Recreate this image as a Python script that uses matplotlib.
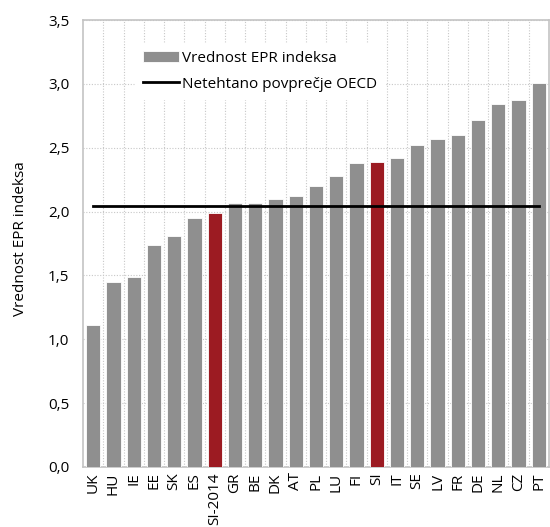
import matplotlib
matplotlib.use("Agg")
import matplotlib.pyplot as plt
from matplotlib.ticker import MultipleLocator, FuncFormatter
import numpy as np

plt.rcParams['font.family'] = ['Open Sans', 'DejaVu Sans']

countries = ["UK", "HU", "IE", "EE", "SK", "ES", "SI-2014", "GR", "BE", "DK", "AT", "PL",
             "LU", "FI", "SI", "IT", "SE", "LV", "FR", "DE", "NL", "CZ", "PT"]
epr_values = [1.11, 1.45, 1.49, 1.74, 1.81, 1.95, 1.99, 2.07, 2.07, 2.10, 2.12, 2.20,
              2.28, 2.38, 2.39, 2.42, 2.52, 2.57, 2.60, 2.72, 2.84, 2.87, 3.01]
oecd_avg = 2.04
highlight = ["SI-2014", "SI"]

gray = "#8f8f8f"
red = "#9c1b22"

fig = plt.figure(figsize=(5.5, 5.27), dpi=100)
ax = fig.add_axes([0.151, 0.114, 0.847, 0.848])

x = np.arange(len(countries))
colors = [red if c in highlight else gray for c in countries]
bars = ax.bar(x, epr_values, width=0.7, color=colors, edgecolor="white", linewidth=0.6, zorder=3)
line, = ax.plot([x[0], x[-1]], [oecd_avg, oecd_avg], color="black", linewidth=2, zorder=4)

ax.set_xlim(-0.5, len(countries) - 0.5)
ax.set_ylim(0, 3.5)
ax.yaxis.set_major_locator(MultipleLocator(0.5))
ax.yaxis.set_major_formatter(FuncFormatter(lambda v, p: f"{v:.1f}".replace(".", ",")))
ax.set_xticks(x)
ax.set_xticklabels(countries, rotation=90, fontsize=11)
ax.set_xticks(x + 0.5, minor=True)
ax.tick_params(axis="both", which="both", length=0)
ax.tick_params(axis="y", labelsize=11, pad=10)
ax.tick_params(axis="x", pad=4)

ax.grid(axis="y", which="major", color="#c8c8c8", linestyle=(0, (1, 1.5)), linewidth=0.8, zorder=0)
ax.grid(axis="x", which="minor", color="#c8c8c8", linestyle=(0, (1, 1.5)), linewidth=0.8, zorder=0)

for s in ax.spines.values():
    s.set_color("#c4c4c4")
    s.set_linewidth(1.2)

ax.set_ylabel("Vrednost EPR indeksa", fontsize=11)
ax.yaxis.set_label_coords(-0.118, 0.51)

leg = ax.legend([bars, line], ["Vrednost EPR indeksa", "Netehtano povprečje OECD"],
                loc="upper left", bbox_to_anchor=(0.095, 0.965), frameon=True, fontsize=11,
                handlelength=2.4, handletextpad=0.15, labelspacing=0.7, borderpad=0.5)
leg.get_frame().set_edgecolor("white")
leg.get_frame().set_facecolor("white")
leg.get_frame().set_alpha(1)
leg.get_frame().set_boxstyle("square", pad=0)
leg.set_zorder(5)

fig.savefig("out.png", dpi=100)
